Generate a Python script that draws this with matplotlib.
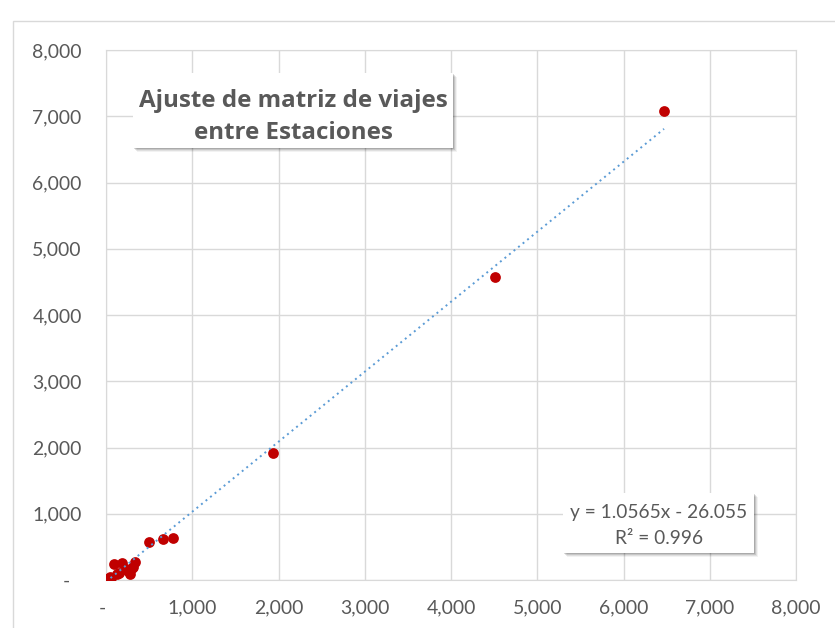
import numpy as np
import matplotlib
matplotlib.use("Agg")
import matplotlib.pyplot as plt
from matplotlib.patches import Rectangle
from matplotlib.ticker import FuncFormatter
from matplotlib.transforms import ScaledTranslation

obs_x = [0, 46, 93, 124, 189, 278, 317, 336, 20, 60, 150, 230, 260, 300,
         499, 664, 780, 1936, 4510, 6470]
mod_y = [15, 50, 242, 91, 252, 91, 200, 276, 5, 30, 110, 160, 140, 180,
         578, 614, 629, 1917, 4574, 7079]

# trendline de Excel
slope = 1.0565
intercept = -26.055
eq_lines = ["y = 1.0565x - 26.055", "R\u00b2 = 0.996"]
title_lines = ["Ajuste de matriz de viajes", "entre Estaciones"]

ticks = [0, 1000, 2000, 3000, 4000, 5000, 6000, 7000, 8000]

plt.rcParams['font.family'] = ['Lato', 'DejaVu Sans']
grey_txt = '#595959'
grid_c = '#D9D9D9'

W, H = 835, 628
fig = plt.figure(figsize=(W / 100, H / 100), dpi=100)
renderer = fig.canvas.get_renderer()


def fit_size(s, target_px, **kw):
    # tamano de letra para que el texto mida target_px de ancho
    t = fig.text(0, 0, s, fontsize=10, **kw)
    w = t.get_window_extent(renderer).width
    t.remove()
    return 10 * target_px / w


tick_fs = fit_size("8,000", 49)
title_fs = fit_size(title_lines[0], 310, fontweight='bold', family=['Open Sans', 'DejaVu Sans'])
eq_fs = fit_size(eq_lines[0], 177)

ax = fig.add_axes([106 / W, 1 - 580 / H, (796 - 106) / W, (580 - 50) / H])

# marco exterior del grafico
fig.patches.append(Rectangle((13 / W, -0.1), 1.2, 1 - 21 / H + 0.1,
                             transform=fig.transFigure, fill=False,
                             edgecolor='#D9D9D9', lw=1))

ax.scatter(obs_x, mod_y, s=60, color='#C00000', zorder=3, linewidths=0)

xl = np.array([min(obs_x), max(obs_x)])
ax.plot(xl, slope * xl + intercept, color='#5B9BD5', lw=1.4,
        linestyle=(0, (1, 2)), zorder=4)

ax.set_xlim(0, 8000)
ax.set_ylim(0, 8000)
ax.set_xticks(ticks)
ax.set_yticks(ticks)
fmt = FuncFormatter(lambda v, p: '-' if v == 0 else f'{int(v):,}')
ax.xaxis.set_major_formatter(fmt)
ax.yaxis.set_major_formatter(fmt)
ax.grid(True, color=grid_c, lw=1)
ax.set_axisbelow(True)
for s in ax.spines.values():
    s.set_color(grid_c)
ax.tick_params(length=0, labelsize=tick_fs, labelcolor=grey_txt)
ax.tick_params(axis='x', pad=14)
ax.tick_params(axis='y', pad=17.5)

# el cero en formato contable queda desplazado
fig.canvas.draw()
ylab = ax.get_yticklabels()[0]
ylab.set_transform(ylab.get_transform() + ScaledTranslation(-0.12, 0, fig.dpi_scale_trans))
xlab = ax.get_xticklabels()[0]
xlab.set_transform(xlab.get_transform() + ScaledTranslation(-0.04, 0, fig.dpi_scale_trans))


def box_with_shadow(x0, y0, x1, y1):
    # sombra difusa hecha con capas
    for k, a in [(4, 0.05), (3, 0.08), (2, 0.11), (1, 0.14)]:
        fig.patches.append(Rectangle(((x0 + k) / W, 1 - (y1 + k) / H), (x1 - x0) / W, (y1 - y0) / H,
                                     transform=fig.transFigure, facecolor='black',
                                     alpha=a, edgecolor='none', zorder=5))
    fig.patches.append(Rectangle((x0 / W, 1 - y1 / H), (x1 - x0) / W, (y1 - y0) / H,
                                 transform=fig.transFigure, facecolor='white',
                                 edgecolor='none', zorder=5))


# cuadro del titulo
box_with_shadow(133, 73, 453, 148)
for line, yc in zip(title_lines, [98, 130]):
    fig.text(293 / W, 1 - yc / H, line, ha='center', va='center_baseline',
             fontsize=title_fs, fontweight='bold', family=['Open Sans', 'DejaVu Sans'],
             color=grey_txt, zorder=6)

# cuadro de la ecuacion
box_with_shadow(563, 493, 754, 553)
for line, yc in zip(eq_lines, [511, 537]):
    fig.text(659 / W, 1 - yc / H, line, ha='center', va='center_baseline',
             fontsize=eq_fs, color=grey_txt, zorder=6)

fig.savefig('out.png', dpi=100)
